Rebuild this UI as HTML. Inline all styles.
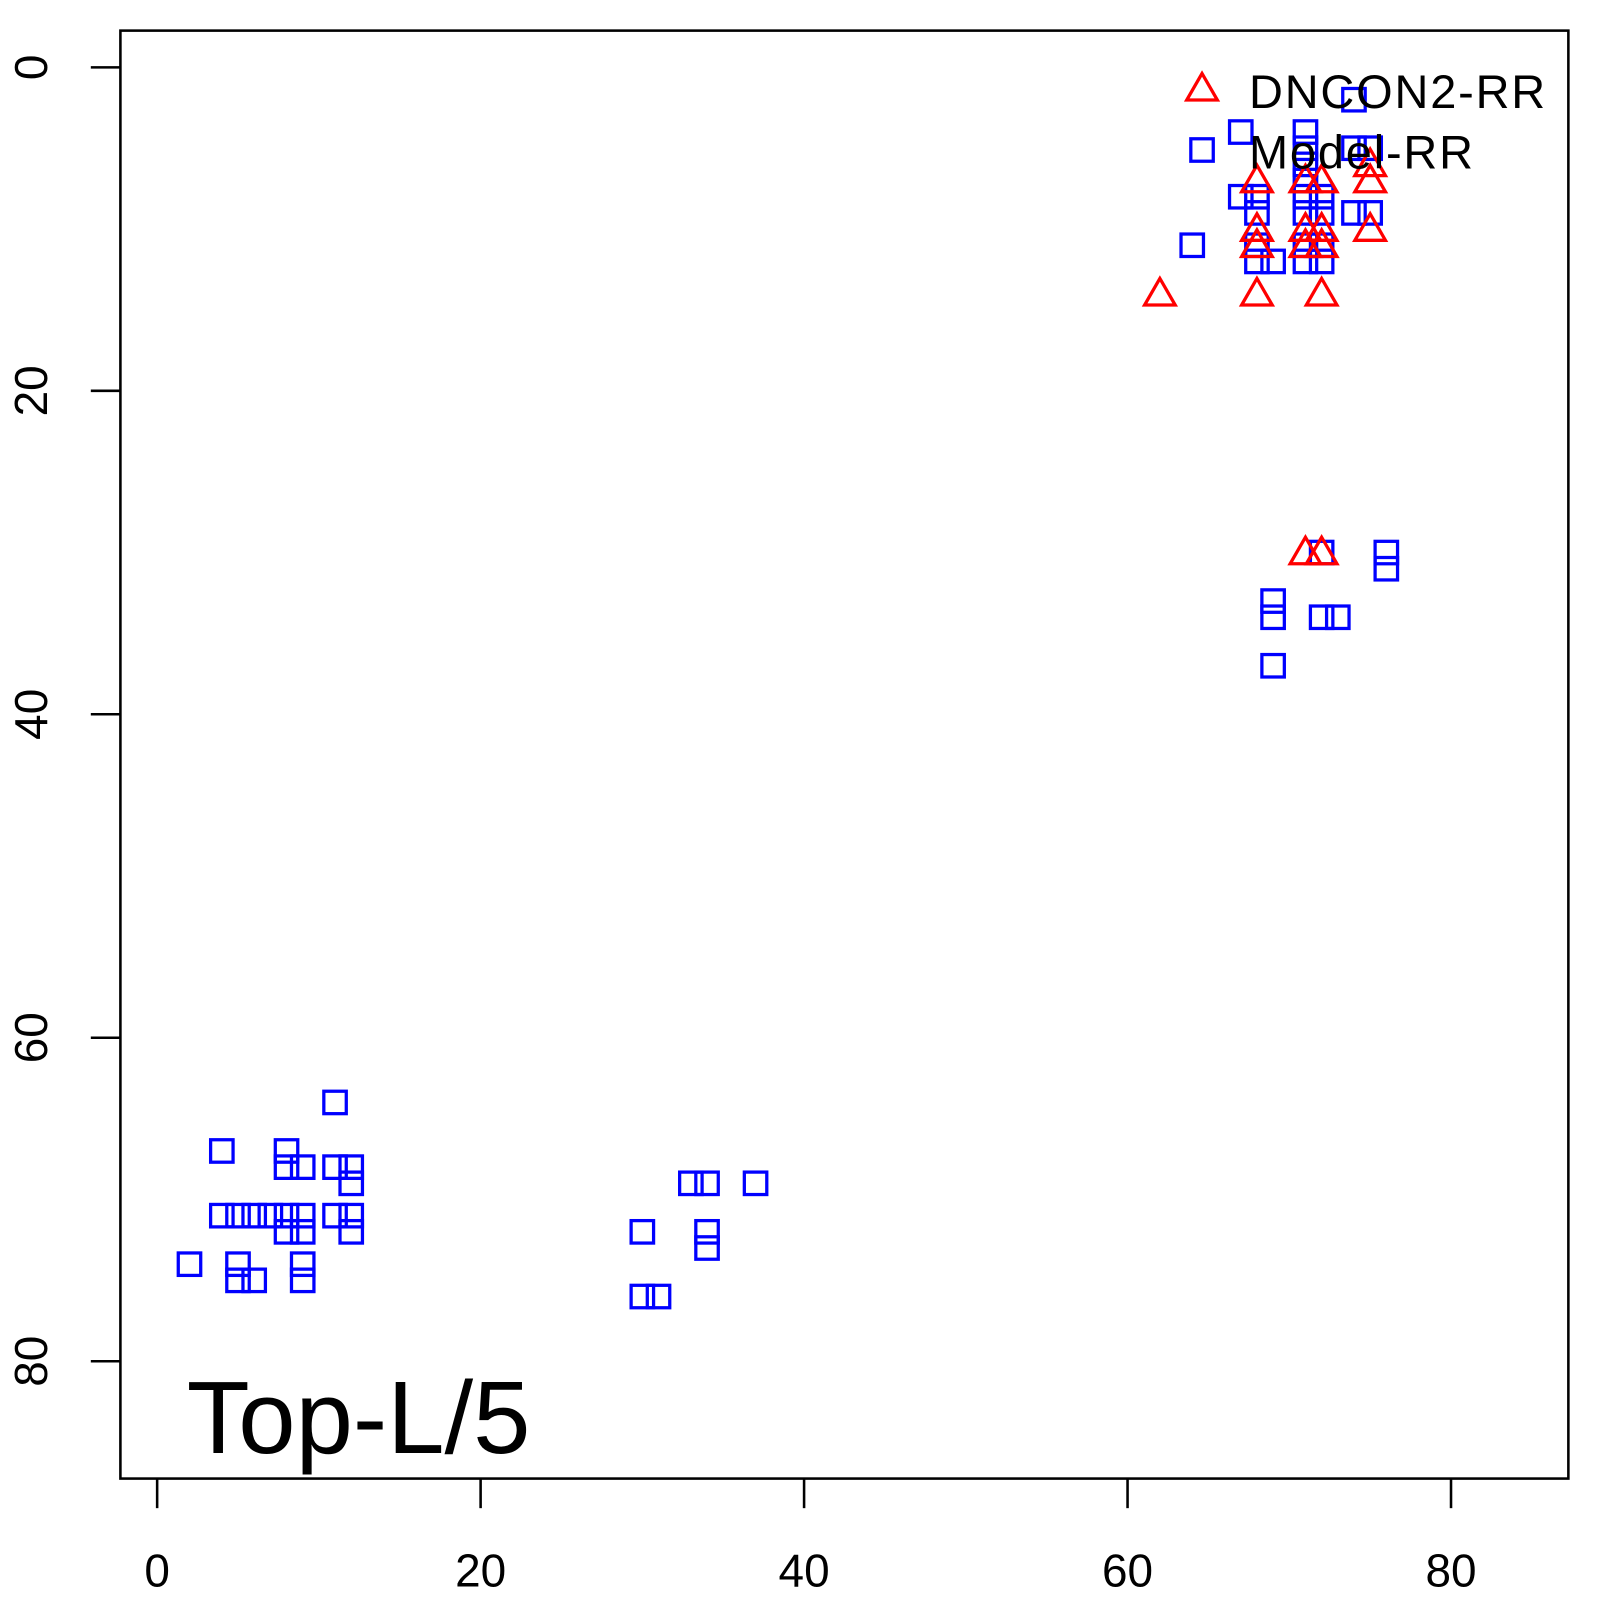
<!DOCTYPE html>
<html><head><meta charset="utf-8"><style>html,body{margin:0;padding:0;background:#fff}svg{display:block}</style></head>
<body>
<svg width="1600" height="1600" viewBox="0 0 1568 1568" xmlns="http://www.w3.org/2000/svg" font-family="Liberation Sans, Arial, sans-serif">
<rect x="118" y="30" width="1419" height="1419" fill="none" stroke="#000" stroke-width="2.5"/>
<g stroke="#000" stroke-width="2.5">
<line x1="154" y1="1449" x2="154" y2="1478"/><line x1="471" y1="1449" x2="471" y2="1478"/><line x1="788" y1="1449" x2="788" y2="1478"/><line x1="1105" y1="1449" x2="1105" y2="1478"/><line x1="1422" y1="1449" x2="1422" y2="1478"/>
<line x1="89" y1="66" x2="118" y2="66"/><line x1="89" y1="383" x2="118" y2="383"/><line x1="89" y1="700" x2="118" y2="700"/><line x1="89" y1="1017" x2="118" y2="1017"/><line x1="89" y1="1334" x2="118" y2="1334"/>
</g>
<g font-size="45" text-anchor="middle" fill="#000">
<text x="154" y="1555">0</text><text x="471" y="1555">20</text><text x="788" y="1555">40</text><text x="1105" y="1555">60</text><text x="1422" y="1555">80</text>
<text transform="translate(46,66) rotate(-90)">0</text>
<text transform="translate(46,383) rotate(-90)">20</text>
<text transform="translate(46,700) rotate(-90)">40</text>
<text transform="translate(46,1017) rotate(-90)">60</text>
<text transform="translate(46,1334) rotate(-90)">80</text>
</g>
<text x="183" y="1424" font-size="101" fill="#000">Top-L/5</text>
<g id="sq" fill="none" stroke="#00f" stroke-width="3.2"></g>
<g id="tr" fill="none" stroke="#f00" stroke-width="3.2"></g>
<text x="1224" y="106" font-size="46" letter-spacing="1.8" fill="#000">DNCON2-RR</text>
<text x="1224" y="165" font-size="46" letter-spacing="1.8" fill="#000">Model-RR</text>
<script>
var S=[[74,2],[67,4],[71,4],[71,5],[71,6],[71,7],[74,5],[75,5],[67,8],[68,8],[68,9],[71,8],[71,9],[72,8],[72,9],[74,9],[75,9],[64,11],[68,11],[71,11],[72,11],[68,12],[69,12],[71,12],[72,12],
[72,30],[76,30],[76,31],[69,33],[69,34],[72,34],[73,34],[69,37],
[11,64],[4,67],[8,67],[8,68],[9,68],[11,68],[12,68],[12,69],[4,71],[5,71],[6,71],[7,71],[8,71],[9,71],[11,71],[12,71],[8,72],[9,72],[12,72],[2,74],[5,74],[5,75],[6,75],[9,74],[9,75],
[30,72],[30,76],[31,76],[33,69],[34,69],[37,69],[34,72],[34,73]];
var T=[[75,6],[75,7],[75,10],[68,7],[71,7],[72,7],[68,10],[71,10],[72,10],[68,11],[71,11],[72,11],[62,14],[68,14],[72,14],[71,30],[72,30]];
var ns="http://www.w3.org/2000/svg",sq=document.getElementById('sq'),tr=document.getElementById('tr');
function X(v){return 154+15.85*v}function Y(v){return 66+15.85*v}
S.forEach(function(p){var r=document.createElementNS(ns,'rect');r.setAttribute('x',X(p[0])-11);r.setAttribute('y',Y(p[1])-11);r.setAttribute('width',22);r.setAttribute('height',22);sq.appendChild(r);});
function tri(cx,cy,g){var t=document.createElementNS(ns,'polygon');t.setAttribute('points',cx+','+(cy-15)+' '+(cx-15)+','+(cy+11)+' '+(cx+15)+','+(cy+11));g.appendChild(t);}
T.forEach(function(p){tri(X(p[0]),Y(p[1]),tr);});
tri(1178,87,tr);
var r=document.createElementNS(ns,'rect');r.setAttribute('x',1167);r.setAttribute('y',136);r.setAttribute('width',22);r.setAttribute('height',22);sq.appendChild(r);
</script>
</svg>
</body></html>
